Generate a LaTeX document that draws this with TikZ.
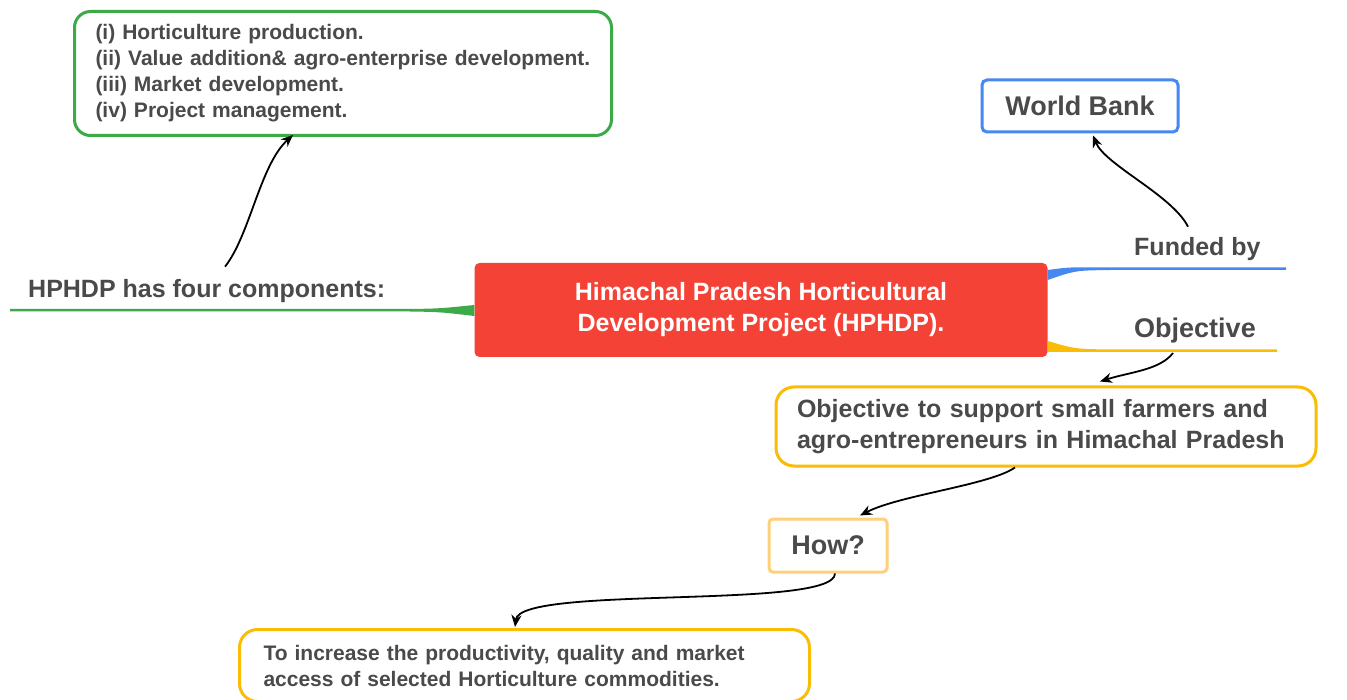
\documentclass[tikz,border=0pt]{standalone}
\usepackage{fontspec}
\setmainfont{Liberation Sans}
\usepackage{tikz}
\usetikzlibrary{positioning,arrows.meta,shapes}
\definecolor{HP_RED}{HTML}{F44336}
\definecolor{HP_GREEN}{HTML}{3DAA4A}
\definecolor{HP_BLUE}{HTML}{4688F1}
\definecolor{HP_YELLOW}{HTML}{FBBC05}
\definecolor{HP_PEACH}{HTML}{FFCF7A}
\definecolor{HP_TEXT}{HTML}{4A4A4A}
\tikzstyle{GREEN_EDGE}=[draw=HP_GREEN]
\tikzstyle{BLUE_EDGE}=[draw=HP_BLUE]
\tikzstyle{YELLOW_EDGE}=[draw=HP_YELLOW]
\tikzstyle{PEACH_EDGE}=[draw=HP_PEACH]
\tikzstyle{layer} = [rectangle, line width=3pt, fill=white, text=HP_TEXT]
\tikzstyle{note_box} = [layer, rounded corners=16pt, align=left, font=\bfseries\fontsize{21}{26}\selectfont]
\tikzstyle{big_box} = [layer, rounded corners=18pt, align=left, font=\bfseries\fontsize{25}{31}\selectfont]
\tikzstyle{tag_box} = [layer, rounded corners=5pt, font=\bfseries\fontsize{27}{32}\selectfont]
\tikzstyle{topic} = [rectangle, rounded corners=5pt, fill=HP_RED, text=white, align=center, font=\bfseries\fontsize{25}{31}\selectfont, minimum width=573pt, minimum height=94pt]
\tikzstyle{branch_lbl} = [text=HP_TEXT, inner sep=0pt, anchor=base west, font=\bfseries\fontsize{25}{31}\selectfont]
\tikzstyle{link} = [black, line width=1.8pt, -{Stealth[length=12pt,width=10pt]}]

\begin{document}
\begin{tikzpicture}[x=1pt, y=-1pt]
      \path[fill=white, use as bounding box] (0,0) rectangle (1347,700);

      \node[topic] (HP) at (761,310) {Himachal Pradesh Horticultural\\Development Project (HPHDP).};

      %%%%%%%%%%%%%%%%%%%%%%%%%%%%%%%%%%%%%%%%%%%%%%%%%
      % BRANCHES
      %%%%%%%%%%%%%%%%%%%%%%%%%%%%%%%%%%%%%%%%%%%%%%%%%
      % components
      \fill[HP_GREEN] (10,309) -- (410,309) .. controls (440,308.5) .. ([yshift=5pt]HP.west)
            -- ([yshift=-6pt]HP.west) .. controls (440,312) .. (410,311.5) -- (10,311.5) -- cycle;
      \node[branch_lbl] (COMP) at (28,298) {HPHDP has four components:};

      % funded by
      \fill[HP_BLUE] ([yshift=40pt]HP.east) .. controls (1070,267) .. (1110,267.5) -- (1286,267.5)
            -- (1286,270) -- (1110,270) .. controls (1075,270.5) .. ([yshift=30pt]HP.east) -- cycle;
      \node[branch_lbl] (FUND) at (1134,256) {Funded by};

      % objective
      \fill[HP_YELLOW] ([yshift=-31pt]HP.east) .. controls (1075,349) .. (1110,349.5) -- (1277,349.5)
            -- (1277,352) -- (1110,352) .. controls (1080,352) .. ([yshift=-42pt]HP.east) -- cycle;
      \node[branch_lbl, font=\bfseries\fontsize{27}{32}\selectfont] (OBJ) at (1134,338) {Objective};

      %%%%%%%%%%%%%%%%%%%%%%%%%%%%%%%%%%%%%%%%%%%%%%%%%
      % BOXES
      %%%%%%%%%%%%%%%%%%%%%%%%%%%%%%%%%%%%%%%%%%%%%%%%%
      \node[note_box, GREEN_EDGE, anchor=north west, inner xsep=21pt, text width=495pt, minimum height=124pt] (LIST) at (73,10)
            {(i) Horticulture production.\\(ii) Value addition\& agro-enterprise development.\\(iii) Market development.\\(iv) Project management.};

      \node[tag_box, BLUE_EDGE, minimum width=196pt, minimum height=52pt] (WB) at (1080,106) {World Bank};

      \node[big_box, YELLOW_EDGE, inner xsep=21pt, text width=498pt, minimum height=79pt] (GOAL) at (1046,426.5)
            {Objective to support small farmers and\\agro-entrepreneurs in Himachal Pradesh};

      \node[tag_box, PEACH_EDGE, rounded corners=4pt, minimum width=118pt, minimum height=53pt] (HOW) at (828,545.5) {How?};

      \node[note_box, YELLOW_EDGE, rounded corners=18pt, anchor=north west, inner xsep=24pt, text width=522pt, minimum height=72pt] (AIM) at (238,628)
            {To increase the productivity, quality and market\\access of selected Horticulture commodities.};

      %%%%%%%%%%%%%%%%%%%%%%%%%%%%%%%%%%%%%%%%%%%%%%%%%
      % LINKS
      %%%%%%%%%%%%%%%%%%%%%%%%%%%%%%%%%%%%%%%%%%%%%%%%%
      \draw[link] ([xshift=197pt,yshift=13pt]COMP.north west) .. controls (250,235) and (260,165) .. ([xshift=220pt,yshift=2pt]LIST.south west);
      \draw[link] ([xshift=54pt,yshift=11pt]FUND.north west) .. controls (1172,195) and (1105,165) .. ([xshift=13pt,yshift=-2pt]WB.south);
      \draw[link] ([xshift=39pt,yshift=-15pt]OBJ.base west) .. controls (1160,370) and (1130,372) .. ([xshift=54pt,yshift=4pt]GOAL.north);
      \draw[link] ([xshift=-31pt]GOAL.south) .. controls (990,485) and (900,495) .. ([xshift=32pt,yshift=2pt]HOW.north);
      \draw[link] ([xshift=7pt]HOW.south) .. controls (835,610) and (520,585) .. ([xshift=277pt,yshift=1pt]AIM.north west);
\end{tikzpicture}
\end{document}
